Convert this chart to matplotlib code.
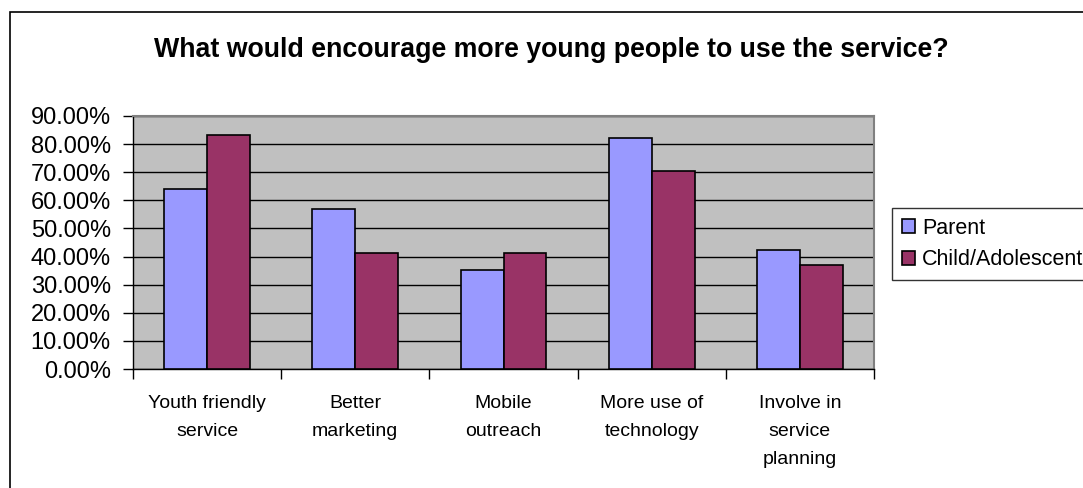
import matplotlib
matplotlib.use("Agg")
import matplotlib.pyplot as plt
from matplotlib.patches import Rectangle
from matplotlib.ticker import FuncFormatter, MultipleLocator
import numpy as np

categories = ["Youth friendly\nservice", "Better\nmarketing", "Mobile\noutreach",
              "More use of\ntechnology", "Involve in\nservice\nplanning"]
parent = [64.0, 56.9, 35.2, 82.0, 42.5]
child = [83.3, 41.2, 41.2, 70.6, 37.1]
series_names = ["Parent", "Child/Adolescent"]
title = "What would encourage more young people to use the service?"

plt.rcParams['font.family'] = ['Liberation Sans', 'DejaVu Sans']

W, H = 1083, 488
fig = plt.figure(figsize=(W / 100, H / 100), dpi=100)

# outer chart border (right and bottom edges fall outside the picture)
fig.patches.append(Rectangle((10 / W, -0.2), 1.2, 1.2 - 12 / H, transform=fig.transFigure,
                             fill=False, edgecolor='black', linewidth=1.2))

ax = fig.add_axes([133 / W, 1 - 369 / H, (874 - 133) / W, (369 - 116) / H])
ax.set_facecolor('#C0C0C0')

x = np.arange(len(categories))
bw = 0.29
ax.bar(x - bw / 2, parent, bw, color='#9999FF', edgecolor='black', linewidth=1.2,
       label=series_names[0], zorder=3)
ax.bar(x + bw / 2, child, bw, color='#993366', edgecolor='black', linewidth=1.2,
       label=series_names[1], zorder=3)

ax.set_xlim(-0.5, len(categories) - 0.5)
ax.set_ylim(0, 90)
ax.yaxis.set_major_locator(MultipleLocator(10))
ax.yaxis.set_major_formatter(FuncFormatter(lambda v, p: f"{v:.2f}%"))
ax.grid(axis='y', color='black', linewidth=1, zorder=1)
ax.set_axisbelow(True)

ax.set_xticks(np.arange(len(categories) + 1) - 0.5)
ax.set_xticklabels([])
ax.set_xticks(x, minor=True)
ax.set_xticklabels(categories, minor=True, fontsize=14, linespacing=1.85, va='top')
ax.tick_params(axis='x', which='minor', length=0, pad=19)
ax.tick_params(axis='x', which='major', length=7, width=1, direction='out')
ax.tick_params(axis='y', length=7, width=1, direction='out', labelsize=17, pad=9)

for s in ['top', 'right']:
    ax.spines[s].set_color('#808080')
    ax.spines[s].set_linewidth(1.5)
for s in ['left', 'bottom']:
    ax.spines[s].set_color('black')
    ax.spines[s].set_linewidth(1)

fig.text(551 / W, 1 - 57 / H, title, ha='center', va='baseline', fontsize=19.3, fontweight='bold')

leg = fig.legend(loc='upper left', bbox_to_anchor=(892 / W, 1 - 208 / H),
                 bbox_transform=fig.transFigure, fontsize=15.5, frameon=True, fancybox=False,
                 handlelength=0.6, handleheight=0.6, handletextpad=0.35, borderpad=0.45,
                 labelspacing=0.5, borderaxespad=0)
leg.get_frame().set_edgecolor('black')
leg.get_frame().set_linewidth(1)

fig.savefig("out.png", dpi=100)
